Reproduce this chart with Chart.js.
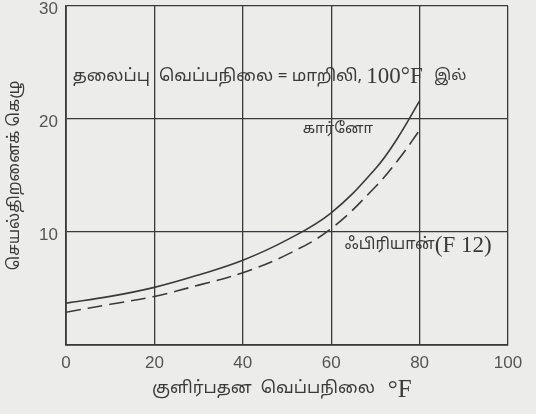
<!DOCTYPE html>
<html>
<head>
<meta charset="utf-8">
<script src="https://cdn.jsdelivr.net/npm/chart.js@4.4.1/dist/chart.umd.min.js"></script>
<style>
  html, body { margin: 0; padding: 0; background: #ececea; }
  #wrap { width: 536px; height: 414px; }
</style>
</head>
<body>
<div id="wrap"><canvas id="chart" width="536" height="414"></canvas></div>
<script>
// refrigerant temperature (°F) and coefficient of performance
var tempF = [0, 10, 20, 30, 40, 50, 60, 70, 75, 80];
var carnotCop = [3.7, 4.3, 5.1, 6.2, 7.5, 9.3, 11.7, 15.6, 18.3, 21.6];
var freonCop = [2.9, 3.6, 4.3, 5.3, 6.4, 8.0, 10.3, 14.0, 16.3, 19.0];

var xTicks = [0, 20, 40, 60, 80, 100];
var yTicks = [10, 20, 30];

var tamilFont = "'Noto Sans Tamil', 'Noto Serif Tamil', 'Latha', 'Noto Sans', sans-serif";
var serifFont = '"Liberation Serif", "DejaVu Serif", serif';
var ink = '#3a3a3a';

function toPts(xs, ys) {
	return xs.map(function (x, i) { return { x: x, y: ys[i] }; });
}

// draws a run of [text, font] pieces starting at x
function drawRun(c, parts, x, y) {
	parts.forEach(function (p) {
		c.font = p[1];
		c.fillText(p[0], x, y);
		x += c.measureText(p[0]).width;
	});
	return x;
}

// labels written inside the plot and the x title
var notes = {
	id: 'notes',
	beforeDraw: function (chart) {
		var c = chart.ctx;
		c.save();
		c.fillStyle = '#ececea';
		c.fillRect(0, 0, chart.width, chart.height);
		c.restore();
	},
	afterDatasetsDraw: function (chart) {
		var c = chart.ctx;
		var xs = chart.scales.x, ys = chart.scales.y;
		c.save();
		c.fillStyle = ink;
		c.textBaseline = 'middle';
		c.textAlign = 'left';

		// header line
		drawRun(c, [
			['தலைப்பு  வெப்பநிலை = மாறிலி, ', '17px ' + tamilFont],
			['100°F  ', '23px ' + serifFont],
			['இல்', '15px ' + tamilFont]
		], xs.getPixelForValue(1.5), ys.getPixelForValue(23.7));

		// carnot label
		c.textAlign = 'right';
		c.font = '15px ' + tamilFont;
		c.fillText('கார்னோ', xs.getPixelForValue(69.5), ys.getPixelForValue(19.0));

		// freon label
		c.textAlign = 'left';
		drawRun(c, [
			['ஃபிரியான்', '16px ' + tamilFont],
			['(F 12)', '23px ' + serifFont]
		], xs.getPixelForValue(63), ys.getPixelForValue(8.8));

		// x axis title
		var tx = drawRun(c, [['குளிர்பதன  வெப்பநிலை  ', '17px ' + tamilFont]], 152, 390);
		drawRun(c, [['°F', '25px ' + serifFont]], tx + 4, 390);
		c.restore();
	}
};

var ctx = document.getElementById('chart').getContext('2d');

var chart = new Chart(ctx, {
	type: 'line',
	data: {
		datasets: [{
			label: 'கார்னோ',
			data: toPts(tempF, carnotCop),
			borderColor: ink,
			borderWidth: 1.6,
			pointRadius: 0,
			tension: 0.4,
			fill: false
		}, {
			label: 'ஃபிரியான்(F 12)',
			data: toPts(tempF, freonCop),
			borderColor: ink,
			borderWidth: 1.6,
			borderDash: [15, 7],
			pointRadius: 0,
			tension: 0.4,
			fill: false
		}]
	},
	options: {
		responsive: false,
		animation: false,
		layout: { padding: { top: 6, right: 28, bottom: 9, left: 6 } },
		plugins: {
			legend: { display: false },
			tooltip: { enabled: false }
		},
		scales: {
			x: {
				type: 'linear',
				min: 0,
				max: 100,
				afterBuildTicks: function (s) { s.ticks = xTicks.map(function (v) { return { value: v }; }); },
				afterFit: function (s) { s.height = 60; },
				grid: { color: ink, lineWidth: 1.3, drawTicks: false },
				border: { color: ink, width: 1.8 },
				ticks: { color: '#555', padding: 8, font: { family: '"Liberation Sans", Arial, sans-serif', size: 17 } }
			},
			y: {
				type: 'linear',
				min: 0,
				max: 30,
				afterBuildTicks: function (s) { s.ticks = [0].concat(yTicks).map(function (v) { return { value: v }; }); },
				afterFit: function (s) { s.width = 60; s.paddingTop = 0; s.paddingBottom = 0; },
				grid: { color: ink, lineWidth: 1.3, drawTicks: false },
				border: { color: ink, width: 1.8 },
				ticks: {
					color: '#555',
					padding: 8,
					labelOffset: 3,
					font: { family: '"Liberation Sans", Arial, sans-serif', size: 17 },
					callback: function (v) { return v === 0 ? '' : v; }
				},
				title: {
					display: true,
					text: 'செயல்திறனைக் கெழு',
					color: ink,
					padding: { top: 0, bottom: 2 },
					font: { family: tamilFont, size: 16 }
				}
			}
		}
	},
	plugins: [notes]
});
</script>
</body>
</html>
